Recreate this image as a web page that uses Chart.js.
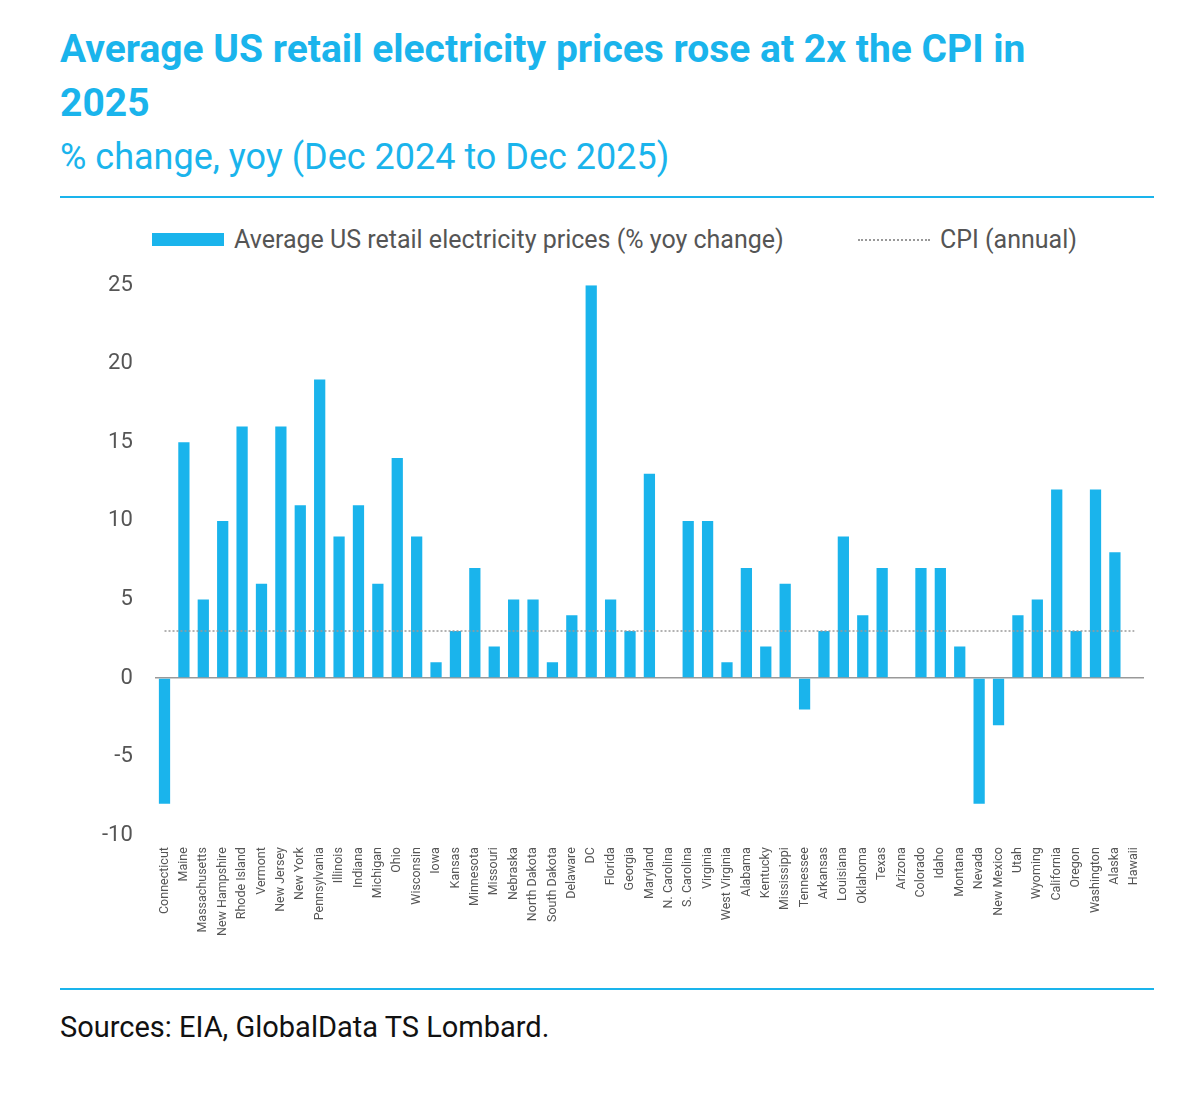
<!DOCTYPE html>
<html>
<head>
<meta charset="utf-8">
<script src="https://cdn.jsdelivr.net/npm/chart.js@4"></script>
<style>
  body { margin: 0; background: #fff; font-family: Roboto, "Noto Sans", sans-serif; }
  #wrap { position: relative; width: 1200px; height: 1112px; }
  h1 { position: absolute; left: 60px; top: 22px; margin: 0; width: 1050px; font-size: 39px; line-height: 54px; font-weight: 700; color: #1ab4ec; }
  .sub { position: absolute; left: 60px; top: 136px; font-size: 36px; color: #1ab4ec; }
  .rule { position: absolute; left: 60px; width: 1094px; height: 2px; background: #1ab4ec; }
  .legend { position: absolute; top: 225px; font-size: 25px; color: #555; display: flex; align-items: center; }
  .src { position: absolute; left: 60px; top: 1010px; font-size: 29px; color: #111; }
  #box { position: absolute; left: 60px; top: 250px; width: 1094px; height: 690px; }
</style>
</head>
<body>
<div id="wrap">
  <h1>Average US retail electricity prices rose at 2x the CPI in 2025</h1>
  <div class="sub">% change, yoy (Dec 2024 to Dec 2025)</div>
  <div class="rule" style="top:196px"></div>
  <div class="legend" style="left:152px"><span style="display:inline-block;width:72px;height:13px;background:#1ab4ec;margin-right:10px"></span>Average US retail electricity prices (% yoy change)</div>
  <div class="legend" style="left:858px"><span style="display:inline-block;width:72px;border-top:2px dotted #999;margin-right:10px"></span>CPI (annual)</div>
  <div id="box"><canvas id="chart"></canvas></div>
  <div class="rule" style="top:988px"></div>
  <div class="src">Sources: EIA, GlobalData TS Lombard.</div>
</div>
<script>
const states = ["Connecticut", "Maine", "Massachusetts", "New Hampshire", "Rhode Island", "Vermont", "New Jersey", "New York", "Pennsylvania", "Illinois", "Indiana", "Michigan", "Ohio", "Wisconsin", "Iowa", "Kansas", "Minnesota", "Missouri", "Nebraska", "North Dakota", "South Dakota", "Delaware", "DC", "Florida", "Georgia", "Maryland", "N. Carolina", "S. Carolina", "Virginia", "West Virginia", "Alabama", "Kentucky", "Mississippi", "Tennessee", "Arkansas", "Louisiana", "Oklahoma", "Texas", "Arizona", "Colorado", "Idaho", "Montana", "Nevada", "New Mexico", "Utah", "Wyoming", "California", "Oregon", "Washington", "Alaska", "Hawaii"]
const priceChange = [-8, 15, 5, 10, 16, 6, 16, 11, 19, 9, 11, 6, 14, 9, 1, 3, 7, 2, 5, 5, 1, 4, 25, 5, 3, 13, 0, 10, 10, 1, 7, 2, 6, -2, 3, 9, 4, 7, 0, 7, 7, 2, -8, -3, 4, 5, 12, 3, 12, 8, 0]
const cpi = 3

new Chart(document.getElementById('chart').getContext('2d'), {
    data: {
        labels: states,
        datasets: [{
            type: 'bar',
            label: 'Average US retail electricity prices (% yoy change)',
            data: priceChange,
            backgroundColor: '#1ab4ec',
            categoryPercentage: 1,
            barPercentage: 0.58,
            order: 2
        }, {
            type: 'line',
            label: 'CPI (annual)',
            data: states.map(() => cpi),
            borderColor: '#999',
            borderWidth: 1.5,
            borderDash: [2, 2],
            pointRadius: 0,
            order: 1
        }]
    },
    options: {
        responsive: true,
        maintainAspectRatio: false,
        animation: false,
        layout: { padding: { top: 8, right: 10, left: 20 } },
        plugins: { legend: { display: false }, tooltip: { enabled: false } },
        scales: {
            y: {
                min: -10, max: 25,
                ticks: { stepSize: 5, color: '#555', font: { size: 22, family: 'Roboto' }, padding: 22 },
                border: { display: false },
                grid: {
                    drawTicks: false,
                    color: (ctx) => ctx.tick && ctx.tick.value === 0 ? '#999' : 'transparent',
                    lineWidth: 1.5
                }
            },
            x: {
                border: { display: false },
                grid: { display: false },
                ticks: { minRotation: 90, maxRotation: 90, autoSkip: false, color: '#555', font: { size: 12.5, family: 'Roboto' }, padding: 4 }
            }
        }
    }
})
</script>
</body>
</html>
